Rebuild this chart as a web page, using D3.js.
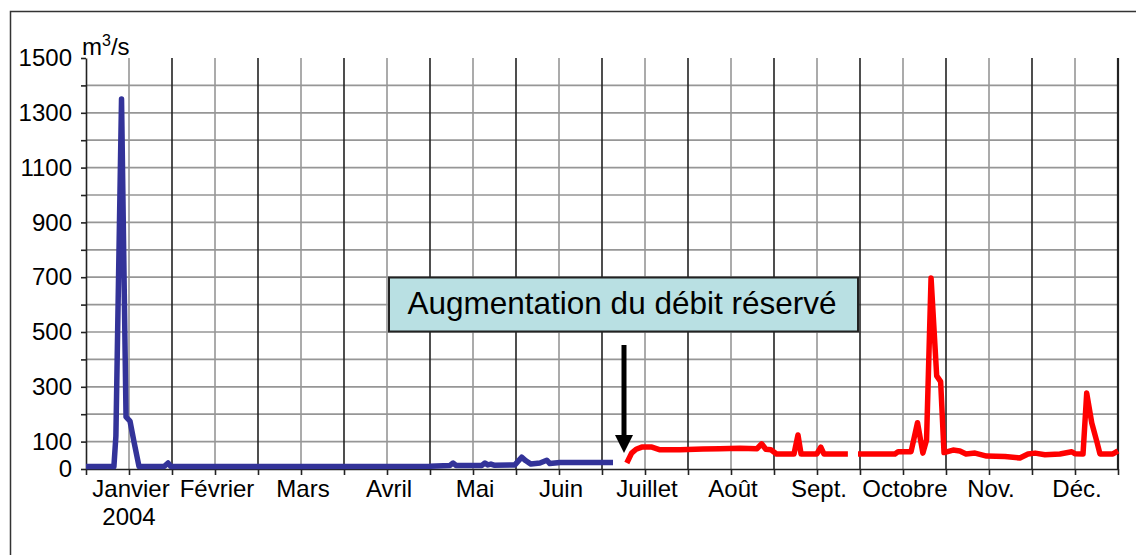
<!DOCTYPE html>
<html>
<head>
<meta charset="utf-8">
<script src="https://cdn.jsdelivr.net/npm/d3@7"></script>
<style>
  body { margin: 0; background: #fff; }
  text { font-family: "Liberation Sans", Arial, sans-serif; fill: #000; }
</style>
</head>
<body>
<script>
// Data: day of year 2004 (0 = 1 Jan) and flow in m3/s
var months = ["Janvier", "Février", "Mars", "Avril", "Mai", "Juin", "Juillet", "Août", "Sept.", "Octobre", "Nov.", "Déc."];
var yTickLabels = [0, 100, 300, 500, 700, 900, 1100, 1300, 1500];

var blueDays = [0, 9.9, 10.6, 12.6, 14.2, 15.6, 17.0, 18.8, 27.7, 29.1, 30.1, 122, 129.1, 130.2, 131.2, 140.4, 141.5, 142.5, 143.6, 144.7, 152.1, 154.5, 156.0, 157.8, 161.0, 163.4, 164.5, 168.1, 186.9];
var blueValues = [9, 9, 120, 1350, 190, 175, 100, 9, 9, 22, 9, 10, 13, 22, 13, 13, 22, 15, 18, 14, 15, 43, 30, 18, 22, 32, 20, 24, 24];

// null = missing days (gap at the end of September)
var redDays = [191.8, 193.5, 195.1, 197.1, 200.7, 203.6, 210.7, 218.8, 224.8, 231.9, 238.0, 239.6, 241.1, 242.9, 244.9, 251.1, 252.5, 253.6, 259.2, 260.6, 261.7, 270.2, 272, 273.8, 286.9, 288.0, 292.6, 294.9, 296.8, 298.1, 299.7, 301.7, 303.1, 304.3, 307.5, 309.9, 312.1, 315.3, 319.4, 325.9, 331.2, 334.1, 336.6, 340.1, 345.4, 349.6, 350.7, 353.6, 354.9, 356.7, 358.5, 359.6, 364.2, 366];
var redValues = [22, 58, 72, 80, 80, 70, 70, 73, 74, 76, 74, 92, 72, 70, 55, 55, 124, 55, 55, 80, 55, 55, null, 55, 55, 63, 63, 169, 58, 106, 697, 340, 319, 60, 69, 66, 55, 58, 47, 46, 40, 55, 58, 52, 55, 63, 56, 55, 277, 168, 100, 55, 55, 66];

//set svg dimensions
var svgWidth = 1136;
var svgHeight = 555;

var margin = { top: 58, right: 18, bottom: 86, left: 86 };
var width = svgWidth - margin.left - margin.right;
var height = svgHeight - margin.top - margin.bottom;

var svg = d3.select("body")
  .append("svg")
  .attr("width", svgWidth)
  .attr("height", svgHeight);

// outer frame (top and left edges visible)
svg.append("path")
  .attr("d", "M10.5," + svgHeight + "V11.5H" + svgWidth)
  .attr("fill", "none")
  .attr("stroke", "#333")
  .attr("stroke-width", 1.5);

var chartGroup = svg.append("g")
  .attr("transform", `translate(${margin.left}, ${margin.top})`);

// scales
var xScale = d3.scaleLinear().domain([0, 366]).range([0, width]);
var yScale = d3.scaleLinear().domain([0, 1500]).range([height, 0]);

// horizontal grid every 100
chartGroup.append("g")
  .selectAll("line")
  .data(d3.range(100, 1500, 100))
  .enter()
  .append("line")
  .attr("x1", 0)
  .attr("x2", width)
  .attr("y1", function(d) { return yScale(d); })
  .attr("y2", function(d) { return yScale(d); })
  .attr("stroke", "#969696")
  .attr("stroke-width", 1.7);

// vertical grid: dark at month limits, grey at mid-month
var halfMonths = d3.range(1, 25).map(function(i) { return i * 366 / 24; });
chartGroup.append("g")
  .selectAll("line")
  .data(halfMonths)
  .enter()
  .append("line")
  .attr("x1", function(d) { return xScale(d); })
  .attr("x2", function(d) { return xScale(d); })
  .attr("y1", 0)
  .attr("y2", height)
  .attr("stroke", function(d, i) { return i % 2 === 1 ? "#222" : "#969696"; })
  .attr("stroke-width", function(d, i) { return i === 23 ? 2.2 : 1.6; });

// x axis with ticks at every grid line
var bottomAxis = d3.axisBottom(xScale)
  .tickValues([0].concat(halfMonths))
  .tickFormat("")
  .tickSize(6)
  .tickSizeOuter(0);
var xAxis = chartGroup.append("g")
  .attr("transform", `translate(0, ${height})`)
  .call(bottomAxis);
xAxis.select(".domain").attr("stroke", "#222").attr("stroke-width", 1.6);
xAxis.selectAll(".tick line").attr("stroke", "#222").attr("stroke-width", 1.6);

// y axis: minor ticks every 100, labels from list
var leftAxis = d3.axisLeft(yScale)
  .tickValues(d3.range(0, 1600, 100))
  .tickFormat(function(d) { return yTickLabels.indexOf(d) >= 0 ? d : ""; })
  .tickSize(5)
  .tickSizeOuter(0)
  .tickPadding(9);
var yAxis = chartGroup.append("g").call(leftAxis);
yAxis.select(".domain").attr("stroke", "#222").attr("stroke-width", 1.6);
yAxis.selectAll(".tick line").attr("stroke", "#222").attr("stroke-width", 1.6);
yAxis.selectAll("text")
  .style("font-size", "24px")
  .style("font-family", "Liberation Sans, Arial, sans-serif")
  .attr("fill", "#000");

// month labels
chartGroup.append("g")
  .selectAll("text")
  .data(months)
  .enter()
  .append("text")
  .attr("x", function(d, i) { return xScale((i + 0.5) * 366 / 12) + 2; })
  .attr("y", height + 28)
  .attr("text-anchor", "middle")
  .style("font-size", "24px")
  .text(function(d) { return d; });

chartGroup.append("text")
  .attr("x", xScale(0.5 * 366 / 12))
  .attr("y", height + 56)
  .attr("text-anchor", "middle")
  .style("font-size", "24px")
  .text("2004");

// unit label
var unit = chartGroup.append("text")
  .attr("x", -4)
  .attr("y", -3)
  .style("font-size", "24px")
  .text("m");
unit.append("tspan").attr("dy", -9).style("font-size", "16px").text("3");
unit.append("tspan").attr("dy", 9).text("/s");

// lines
var line = d3.line()
  .defined(function(d) { return d[1] !== null; })
  .x(function(d) { return xScale(d[0]); })
  .y(function(d) { return yScale(d[1]); });

chartGroup.append("path")
  .datum(d3.zip(blueDays, blueValues))
  .attr("d", line)
  .attr("fill", "none")
  .attr("stroke", "#333399")
  .attr("stroke-width", 5.5)
  .attr("stroke-linejoin", "round");

chartGroup.append("path")
  .datum(d3.zip(redDays, redValues))
  .attr("d", line)
  .attr("fill", "none")
  .attr("stroke", "#ff0000")
  .attr("stroke-width", 5.5)
  .attr("stroke-linejoin", "round");

// annotation box
svg.append("rect")
  .attr("x", 389)
  .attr("y", 277.5)
  .attr("width", 469)
  .attr("height", 54)
  .attr("fill", "#b9e0e3")
  .attr("stroke", "#222")
  .attr("stroke-width", 2);
svg.append("text")
  .attr("x", 622)
  .attr("y", 314)
  .attr("text-anchor", "middle")
  .style("font-size", "31.5px")
  .text("Augmentation du débit réservé");

// arrow pointing at the change date
svg.append("line")
  .attr("x1", 624)
  .attr("x2", 624)
  .attr("y1", 345)
  .attr("y2", 437)
  .attr("stroke", "#000")
  .attr("stroke-width", 5);
svg.append("path")
  .attr("d", "M615,435L633,435L624,453Z")
  .attr("fill", "#000");
</script>
</body>
</html>
